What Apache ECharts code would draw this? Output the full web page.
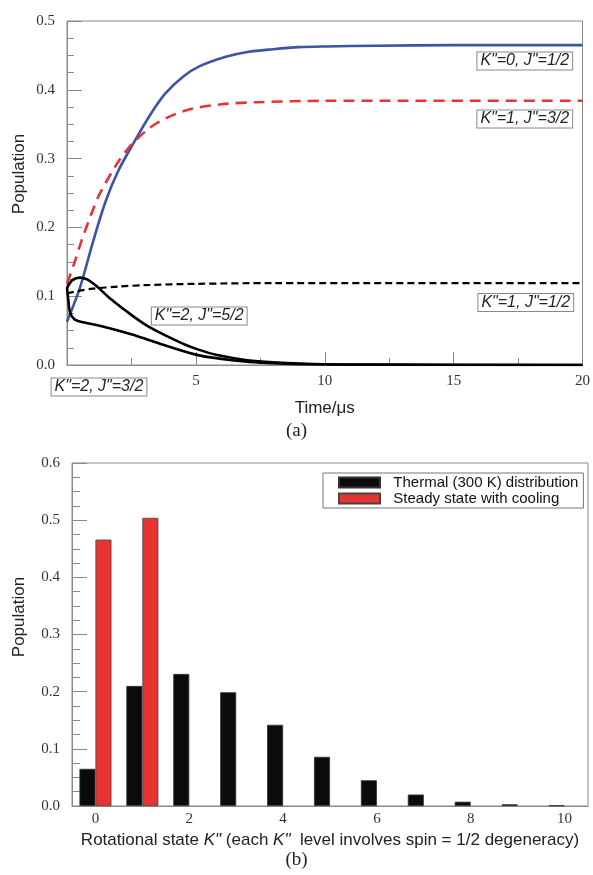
<!DOCTYPE html>
<html>
<head>
<meta charset="utf-8">
<script src="https://cdn.jsdelivr.net/npm/echarts@6/dist/echarts.min.js"></script>
<style>
html,body{margin:0;padding:0;background:#fff;}
#c{width:593px;height:875px;}
</style>
</head>
<body>
<div id="c"></div>
<script>
// ---- Panel (a): time evolution of level populations ([time in µs, population]) ----
const k0j12 = [[0,0.063],[0.5,0.112],[1,0.178],[1.5,0.238],[2,0.283],[2.62,0.325],[3.2,0.362],[3.8,0.394],[4.5,0.419],[5.13,0.434],[6.16,0.448],[7,0.455],[8,0.459],[9,0.462],[10,0.463],[12,0.464],[15,0.465],[20,0.465]];
const k1j32 = [[0,0.118],[0.3,0.15],[0.56,0.18],[1,0.225],[1.27,0.249],[2,0.296],[2.62,0.325],[3.46,0.351],[4.6,0.37],[6,0.379],[7.4,0.382],[10,0.384],[20,0.384]];
const k1j12 = [[0,0.104],[0.5,0.108],[1,0.111],[2,0.114],[3,0.116],[5,0.118],[8,0.119],[20,0.119]];
const k2j52 = [[0,0.112],[0.2,0.123],[0.5,0.127],[0.8,0.124],[1.2,0.113],[1.66,0.097],[2.56,0.071],[3.2,0.055],[4.49,0.031],[5.13,0.022],[5.78,0.015],[7,0.007],[8,0.004],[10,0.001],[12,0.0003],[20,0]];
const k2j32 = [[0,0.113],[0.05,0.095],[0.12,0.076],[0.3,0.066],[0.63,0.062],[1.27,0.057],[2.56,0.044],[3.2,0.036],[3.85,0.028],[5.13,0.014],[6.4,0.007],[7.7,0.003],[10,0.001],[20,0]];
const levelNames = ['K"=0, J"=1/2','K"=1, J"=3/2','K"=1, J"=1/2','K"=2, J"=5/2','K"=2, J"=3/2'];
const labelAnchors = [[17.76,0.442],[17.76,0.3576],[17.8,0.0908],[5.13,0.0712],[1.24,-0.032]];

// ---- Panel (b): rotational state distribution ----
const kStates = ['0','1','2','3','4','5','6','7','8','9','10'];
const thermal = [0.065,0.21,0.231,0.199,0.142,0.086,0.045,0.020,0.0075,0.003,0.001];
const cooling = [0.466,0.504,null,null,null,null,null,null,null,null,null];
const legendNames = ['Thermal (300 K) distribution','Steady state with cooling'];

const SERIF = '"Liberation Serif","DejaVu Serif",serif';
const SANS = '"Liberation Sans",Arial,sans-serif';
const GRAY = '#8a8a8a';
const boxTextStyle = {fontFamily:SANS, fontStyle:'italic', fontSize:16, color:'#222',
  backgroundColor:'#fff', borderColor:'#888', borderWidth:1, padding:[1,3,0,3]};

function boxLabel(i){
  return {
    symbol:'rect', symbolSize:0, silent:true,
    data:[{coord:labelAnchors[i]}],
    label:Object.assign({show:true, position:'inside', formatter:levelNames[i]}, boxTextStyle)
  };
}
function lineSeries(name, data, color, width, type, idx){
  const s = {type:'line', name:name, xAxisIndex:0, yAxisIndex:0, data:data, showSymbol:false,
    smooth:0.3, clip:true,
    lineStyle:{color:color, width:width, type:type}, z:3};
  if (idx < 4) s.markPoint = boxLabel(idx);
  return s;
}
const yLabelFmt = v => v.toFixed(1);
const chart = echarts.init(document.getElementById('c'), null, {renderer:'canvas'});
chart.setOption({
  animation:false,
  backgroundColor:'#fff',
  grid:[
    {left:67, top:21, width:518, height:344, show:true, borderColor:GRAY, borderWidth:1},
    {left:72, top:463, width:516, height:343, show:true, borderColor:GRAY, borderWidth:1}
  ],
  xAxis:[
    {type:'value', gridIndex:0, min:0, max:20, interval:5,
      name:'Time/\u03bcs', nameLocation:'middle', nameGap:35,
      nameTextStyle:{fontFamily:SANS, fontSize:17, color:'#222'},
      axisLine:{lineStyle:{color:GRAY}},
      axisTick:{inside:true, length:13, lineStyle:{color:GRAY}},
      minorTick:{show:true, splitNumber:2, length:7, lineStyle:{color:GRAY}},
      splitLine:{show:false},
      axisLabel:{margin:9, fontFamily:SERIF, fontSize:15, color:'#333', formatter:v => v===0 ? '' : String(v)}},
    {type:'category', gridIndex:1, data:kStates, position:'bottom', boundaryGap:true,
      name:'{n|Rotational state }{i|K"}{n| (each }{i|K"}{n|  level involves spin = 1/2 degeneracy)}',
      nameLocation:'middle', nameGap:26,
      nameTextStyle:{fontFamily:SANS, fontSize:17, color:'#222',
        rich:{n:{fontFamily:SANS, fontSize:17, color:'#222'}, i:{fontFamily:SANS, fontSize:17, color:'#222', fontStyle:'italic'}}},
      axisLine:{lineStyle:{color:GRAY}},
      axisTick:{alignWithLabel:true, inside:true, length:14, interval:i => i%2===0, lineStyle:{color:GRAY}},
      axisLabel:{interval:1, margin:6, fontFamily:SERIF, fontSize:15, color:'#333'},
      splitLine:{show:false}},
    {type:'category', gridIndex:1, data:kStates, position:'bottom', boundaryGap:true,
      axisLine:{show:false},
      axisTick:{alignWithLabel:true, inside:true, length:7, interval:i => i%2===1, lineStyle:{color:GRAY}},
      axisLabel:{show:false}, splitLine:{show:false}}
  ],
  yAxis:[
    {type:'value', gridIndex:0, min:0, max:0.5, interval:0.1,
      axisLine:{show:true, lineStyle:{color:GRAY}},
      axisTick:{show:true, inside:true, length:15, lineStyle:{color:GRAY}},
      minorTick:{show:true, splitNumber:4, length:7, lineStyle:{color:GRAY}},
      splitLine:{show:false},
      axisLabel:{margin:12, fontFamily:SERIF, fontSize:15, color:'#333', formatter:yLabelFmt}},
    {type:'value', gridIndex:1, min:0, max:0.6, interval:0.1,
      axisLine:{show:true, lineStyle:{color:GRAY}},
      axisTick:{show:true, inside:true, length:15, lineStyle:{color:GRAY}},
      minorTick:{show:true, splitNumber:4, length:8, lineStyle:{color:GRAY}},
      splitLine:{show:false},
      axisLabel:{margin:12, fontFamily:SERIF, fontSize:15, color:'#333', formatter:yLabelFmt}}
  ],
  legend:{
    data:legendNames, left:323, top:473, orient:'vertical', icon:'rect',
    itemWidth:41, itemHeight:10, itemGap:1, padding:[2,5,2,15],
    borderColor:'#777', borderWidth:1, backgroundColor:'#fff',
    formatter:n => '  ' + n,
    textStyle:{fontFamily:SANS, fontSize:15, color:'#111'},
    selectedMode:false
  },
  graphic:[
    {type:'text', left:'center', top:422, style:{text:'(a)', font:'19px '+SERIF, fill:'#222'}},
    {type:'text', left:'center', top:851, style:{text:'(b)', font:'19px '+SERIF, fill:'#222'}},
    {type:'text', x:19, y:174, rotation:Math.PI/2, style:{text:'Population', font:'17px '+SANS, fill:'#222', align:'center', verticalAlign:'middle'}},
    {type:'text', x:19, y:617, rotation:Math.PI/2, style:{text:'Population', font:'17px '+SANS, fill:'#222', align:'center', verticalAlign:'middle'}}
  ],
  series:[
    lineSeries(levelNames[0], k0j12, '#3a55a6', 2.6, 'solid', 0),
    lineSeries(levelNames[1], k1j32, '#ec3131', 2.6, [11,7], 1),
    lineSeries(levelNames[2], k1j12, '#000', 2.2, [7,4], 2),
    lineSeries(levelNames[3], k2j52, '#000', 2.6, 'solid', 3),
    lineSeries(levelNames[4], k2j32, '#000', 2.6, 'solid', 4),
    {type:'bar', name:legendNames[0], xAxisIndex:1, yAxisIndex:1, data:thermal, barWidth:16, barGap:'0%',
      itemStyle:{color:'#0b0b0b', borderColor:'#333', borderWidth:0.8}},
    {type:'bar', name:legendNames[1], xAxisIndex:1, yAxisIndex:1, data:cooling, barWidth:16, barGap:'0%',
      itemStyle:{color:'#e93232', borderColor:'#444', borderWidth:0.8}}
  ]
});
// Label box for K"=2, J"=3/2 sits below the axis; place it from the axis scale.
const p = chart.convertToPixel({gridIndex:0}, labelAnchors[4]);
chart.setOption({graphic:[{id:'lbl5', type:'text', x:p[0], y:p[1], z:10,
  style:{text:levelNames[4], font:'italic 16px '+SANS, fill:'#222', align:'center', verticalAlign:'middle',
    backgroundColor:'#fff', borderColor:'#888', borderWidth:1, padding:[1,3,0,3]}}]});
</script>
</body>
</html>
